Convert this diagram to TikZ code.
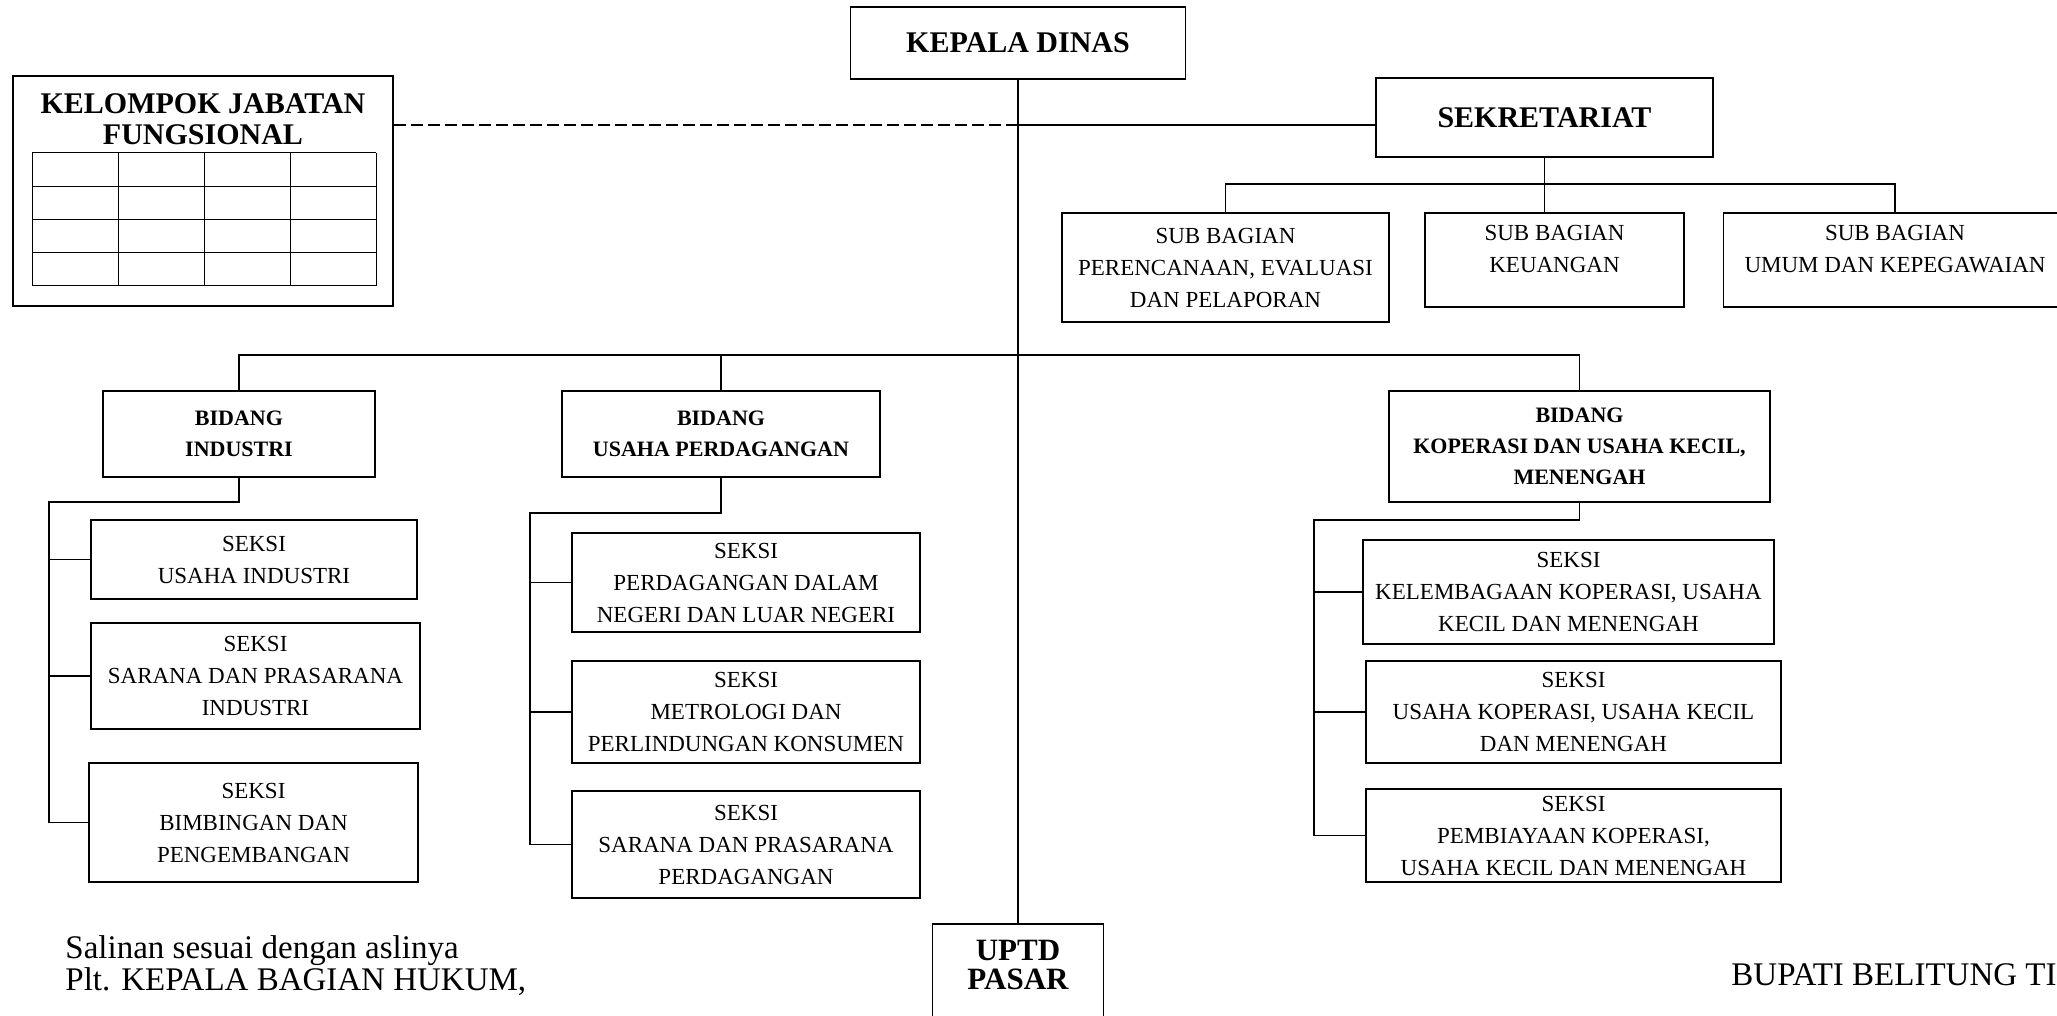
\documentclass[tikz,border=0pt]{standalone}
\usepackage{fontspec}
\setmainfont{Liberation Serif}

\newcommand{\rataatas}[3]{\parbox[t][#1][t]{#2}{\centering #3}}

\begin{document}
\begin{tikzpicture}[x=0.5pt, y=-0.5pt, line width=0.8pt,
	kotak/.style 2 args={draw, minimum width=#1*0.5pt, minimum height=#2*0.5pt, align=center},
	biasa/.style={font=\fontsize{11.5}{16}\selectfont},
	tebal/.style={font=\fontsize{11}{15.5}\selectfont\bfseries},
	besar/.style={font=\fontsize{15}{15.5}\selectfont\bfseries}]
	\useasboundingbox (0,0) rectangle (2057,1016);

	\node[kotak={335}{72}, besar] (kepala) at (1018,43) {KEPALA DINAS};
	\node[kotak={337}{79}, besar] (sek) at (1544.5,117.5) {SEKRETARIAT};
	\node[kotak={380}{230}] (jabatan) at (203,191) {};
	\node[besar, align=center] (judulkj) at (203,119.5) {KELOMPOK JABATAN\\FUNGSIONAL};
	\foreach \i in {0,...,4} {
		\draw[line width=0.5pt] (32+86*\i,153) -- (32+86*\i,286);
		\draw[line width=0.5pt] (32,153+33.25*\i) -- (376,153+33.25*\i);
	}

	\node[kotak={327}{109}, biasa] (sb1) at (1225.5,267.5) {SUB BAGIAN\\PERENCANAAN, EVALUASI\\DAN PELAPORAN};
	\node[kotak={259}{94}, biasa, inner ysep=6pt] (sb2) at (1554.5,260) {\rataatas{35pt}{120pt}{SUB BAGIAN\\KEUANGAN}};
	\node[kotak={342}{94}, biasa, inner ysep=6pt] (sb3) at (1895,260) {\rataatas{35pt}{165pt}{SUB BAGIAN\\UMUM DAN KEPEGAWAIAN}};

	\node[kotak={272}{86}, tebal] (bid1) at (239,434) {BIDANG\\INDUSTRI};
	\node[kotak={318}{86}, tebal] (bid2) at (721,434) {BIDANG\\USAHA PERDAGANGAN};
	\node[kotak={381}{111}, tebal] (bid3) at (1579.5,446.5) {BIDANG\\KOPERASI DAN USAHA KECIL,\\MENENGAH};

	\node[kotak={326}{79}, biasa] (s11) at (254,559.5) {SEKSI\\USAHA INDUSTRI};
	\node[kotak={329}{106}, biasa] (s12) at (255.5,676) {SEKSI\\SARANA DAN PRASARANA\\INDUSTRI};
	\node[kotak={329}{119}, biasa] (s13) at (253.5,822.5) {SEKSI\\BIMBINGAN DAN\\PENGEMBANGAN};

	\node[kotak={348}{99}, biasa] (s21) at (746,582.5) {SEKSI\\PERDAGANGAN DALAM\\NEGERI DAN LUAR NEGERI};
	\node[kotak={348}{102}, biasa] (s22) at (746,712) {SEKSI\\METROLOGI DAN\\PERLINDUNGAN KONSUMEN};
	\node[kotak={348}{107}, biasa] (s23) at (746,844.5) {SEKSI\\SARANA DAN PRASARANA\\PERDAGANGAN};

	\node[kotak={411}{104}, biasa] (s31) at (1568.5,592) {SEKSI\\KELEMBAGAAN KOPERASI, USAHA\\KECIL DAN MENENGAH};
	\node[kotak={415}{102}, biasa] (s32) at (1573.5,712) {SEKSI\\USAHA KOPERASI, USAHA KECIL\\DAN MENENGAH};
	\node[kotak={415}{93}, biasa] (s33) at (1573.5,835.5) {SEKSI\\PEMBIAYAAN KOPERASI,\\USAHA KECIL DAN MENENGAH};

	\node[kotak={171}{200}, anchor=north, inner ysep=8pt, font=\fontsize{15.5}{14.5}\selectfont\bfseries] (uptd) at (1018,923) {\rataatas{84pt}{70pt}{UPTD\\PASAR}};

	\draw (kepala.south) -- (uptd.north);
	\coordinate (simpang) at (1018,125);
	\draw (simpang) -- (simpang -| sek.west);
	\draw[dash pattern=on 6pt off 2.5pt] (simpang) -- (simpang -| jabatan.east);

	\draw (sek.south) -- (sek.south |- sb2.north);
	\draw (sb1.north) -- ++(0,-28) -| (sb3.north);

	\draw (bid1.north) -- ++(0,-35) -| (bid3.north);
	\draw (bid2.north) -- ++(0,-35);

	\coordinate (k1) at (49,502);
	\draw (bid1.south) |- (k1) |- (s13.west);
	\foreach \s in {s11,s12} \draw (k1 |- \s.west) -- (\s.west);
	\coordinate (k2) at (530,513);
	\draw (bid2.south) |- (k2) |- (s23.west);
	\foreach \s in {s21,s22} \draw (k2 |- \s.west) -- (\s.west);
	\coordinate (k3) at (1314,520);
	\draw (bid3.south) |- (k3) |- (s33.west);
	\foreach \s in {s31,s32} \draw (k3 |- \s.west) -- (\s.west);

	\node[anchor=west, align=left, font=\fontsize{16.5}{16}\selectfont] (salinan) at (58,966) {Salinan sesuai dengan aslinya\\Plt. KEPALA BAGIAN HUKUM,};
	\node[anchor=west, font=\fontsize{16.5}{16}\selectfont] (bupati) at (1724,975) {BUPATI BELITUNG TIMUR};
\end{tikzpicture}
\end{document}
